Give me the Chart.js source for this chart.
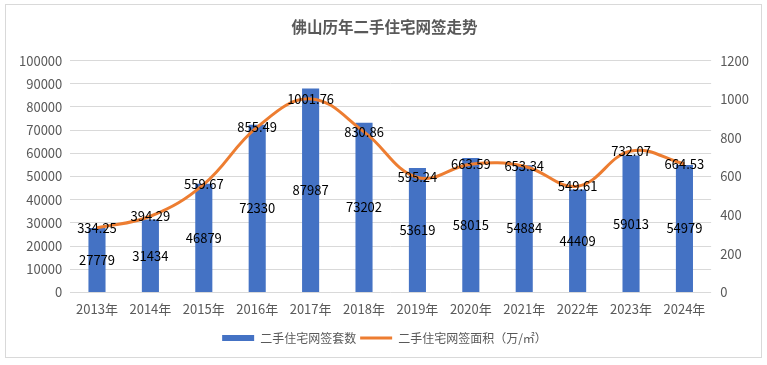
<!DOCTYPE html>
<html>
<head>
<meta charset="utf-8">
<script src="https://cdn.jsdelivr.net/npm/chart.js@4"></script>
<style>
  html, body { margin: 0; padding: 0; background: #fff; }
  .frame {
    position: absolute; left: 5px; top: 4px;
    width: 755px; height: 352px;
    border: 1px solid #d9d9d9;
  }
</style>
</head>
<body>
<div class="frame"><canvas id="chart"></canvas></div>
<script>
const years = ["2013年", "2014年", "2015年", "2016年", "2017年", "2018年",
  "2019年", "2020年", "2021年", "2022年", "2023年", "2024年"];
const deals = [27779, 31434, 46879, 72330, 87987, 73202, 53619, 58015, 54884, 44409, 59013, 54979];
const area = [334.25, 394.29, 559.67, 855.49, 1001.76, 830.86, 595.24, 663.59, 653.34, 549.61, 732.07, 664.53];

const font = '"Noto Sans CJK SC", "Noto Sans", sans-serif';

// draw the value labels like Excel does: bar values mid-bar, line values on the point
const valueLabels = {
  id: "valueLabels",
  afterDatasetsDraw(chart) {
    const ctx = chart.ctx;
    ctx.save();
    ctx.font = "13px " + font;
    ctx.fillStyle = "#000";
    ctx.textAlign = "center";
    ctx.textBaseline = "middle";
    chart.getDatasetMeta(0).data.forEach((bar, i) => {
      ctx.fillText(String(deals[i]), bar.x, (bar.y + bar.base) / 2);
    });
    chart.getDatasetMeta(1).data.forEach((pt, i) => {
      ctx.fillText(area[i].toFixed(2), pt.x, pt.y);
    });
    ctx.restore();
  }
};

new Chart(document.getElementById("chart"), {
  data: {
    labels: years,
    datasets: [
      {
        type: "bar",
        label: "二手住宅网签套数",
        data: deals,
        backgroundColor: "#4472C4",
        pointStyle: "rect",
        yAxisID: "y",
        categoryPercentage: 1,
        barPercentage: 0.32,
        order: 2
      },
      {
        type: "line",
        label: "二手住宅网签面积（万/㎡）",
        data: area,
        borderColor: "#ED7D31",
        backgroundColor: "#ED7D31",
        borderWidth: 3,
        pointStyle: "line",
        pointRadius: 0,
        tension: 0.4,
        yAxisID: "y1",
        order: 1
      }
    ]
  },
  options: {
    responsive: true,
    maintainAspectRatio: false,
    animation: false,
    layout: { padding: { left: 5, right: 3, top: 6, bottom: 3 } },
    scales: {
      x: {
        grid: { display: false },
        border: { display: false },
        ticks: { color: "#595959", padding: 1, font: { family: font, size: 13 } },
        afterFit: (scale) => { scale.height += 10; }
      },
      y: {
        position: "left",
        min: 0,
        max: 100000,
        ticks: {
          stepSize: 10000,
          color: "#595959",
          padding: 8,
          font: { family: font, size: 13 },
          callback: (v) => String(v)
        },
        grid: { color: "#d9d9d9", drawTicks: false },
        border: { display: false }
      },
      y1: {
        position: "right",
        min: 0,
        max: 1200,
        ticks: {
          stepSize: 200,
          color: "#595959",
          padding: 9,
          font: { family: font, size: 13 },
          callback: (v) => String(v)
        },
        grid: { display: false, drawTicks: false },
        border: { display: false }
      }
    },
    plugins: {
      title: {
        display: true,
        text: "佛山历年二手住宅网签走势",
        color: "#595959",
        font: { family: font, size: 15.5, weight: "bold" },
        padding: { top: 7, bottom: 24 }
      },
      legend: {
        position: "bottom",
        labels: {
          color: "#595959",
          usePointStyle: true,
          pointStyleWidth: 32,
          boxHeight: 6,
          padding: 4,
          font: { family: font, size: 12 },
          sort: (a, b) => a.datasetIndex - b.datasetIndex
        }
      },
      tooltip: { enabled: false }
    }
  },
  plugins: [valueLabels]
});
</script>
</body>
</html>
